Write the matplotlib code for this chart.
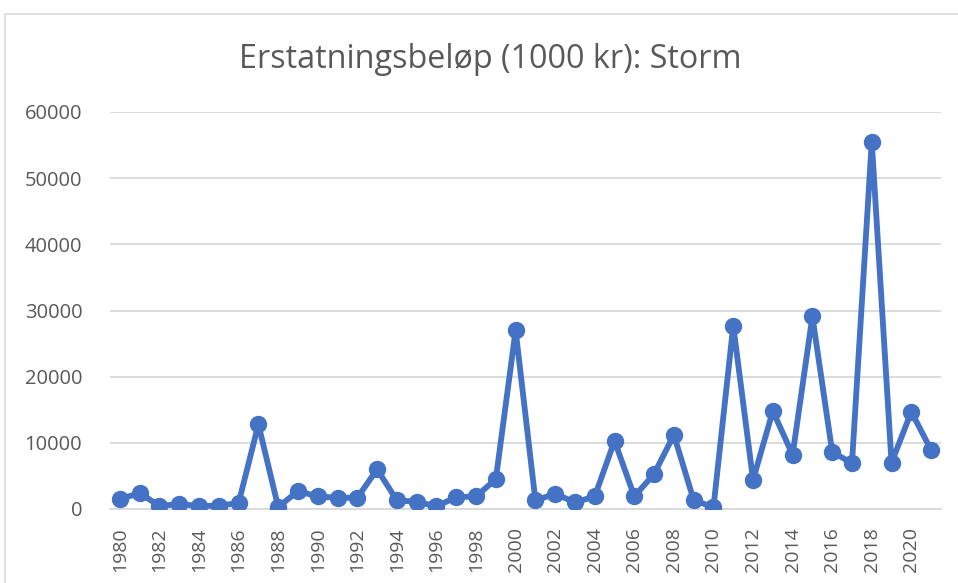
import matplotlib.pyplot as plt
from matplotlib.patches import Rectangle

# år og erstatningsbeløp (1000 kr), lest av figuren
years = list(range(1980, 2022))
values = [1500, 2400, 450, 750, 450, 500, 900, 12800, 300, 2700,
          1900, 1700, 1700, 6000, 1300, 1100, 400, 1800, 1900, 4500,
          27000, 1300, 2300, 1000, 1900, 10300, 1900, 5300, 11200, 1350,
          250, 27700, 4400, 14800, 8200, 29100, 8650, 6900, 55500, 7000,
          14700, 8900]
yticks = [0, 10000, 20000, 30000, 40000, 50000, 60000]
title = 'Erstatningsbeløp (1000 kr): Storm'

blue = '#4472C4'
grey_text = '#595959'
grid_col = '#D9D9D9'

plt.rcParams['font.family'] = ['Open Sans', 'DejaVu Sans']

fig = plt.figure(figsize=(9.58, 5.83), dpi=100)
W, H = 958, 583

# ramme rundt diagrammet (går ut over bildekanten)
fig.patches.append(Rectangle((5 / W, -0.1), 1.2, (583 - 14) / H + 0.1,
                             transform=fig.transFigure, fill=False,
                             edgecolor=grid_col, linewidth=1.2))

ax = fig.add_axes([110 / W, (583 - 509) / H, (941 - 110) / W, (509 - 112) / H])

x = range(len(years))
ax.plot(x, values, color=blue, linewidth=4.2, marker='o', markersize=11.5,
        solid_joinstyle='round', zorder=3)

ax.set_xlim(-0.5, len(years) - 0.5)
ax.set_ylim(0, 60000)
ax.set_yticks(yticks)
ax.set_yticklabels([str(v) for v in yticks])
ax.set_xticks(list(x)[::2])
ax.set_xticklabels([str(y) for y in years[::2]], rotation=90)

ax.grid(axis='y', color=grid_col, linewidth=1.3)
ax.set_axisbelow(True)
for side in ['top', 'right', 'left']:
    ax.spines[side].set_visible(False)
ax.spines['bottom'].set_color(grid_col)
ax.spines['bottom'].set_linewidth(1.3)
ax.tick_params(axis='y', length=0, pad=20, labelsize=14.5, labelcolor=grey_text)
ax.tick_params(axis='x', length=0, pad=13, labelsize=14, labelcolor=grey_text)

fig.text(490 / W, (583 - 60) / H, title, ha='center', va='center',
         fontsize=23.3, color=grey_text)

fig.savefig('out.png', dpi=100)
